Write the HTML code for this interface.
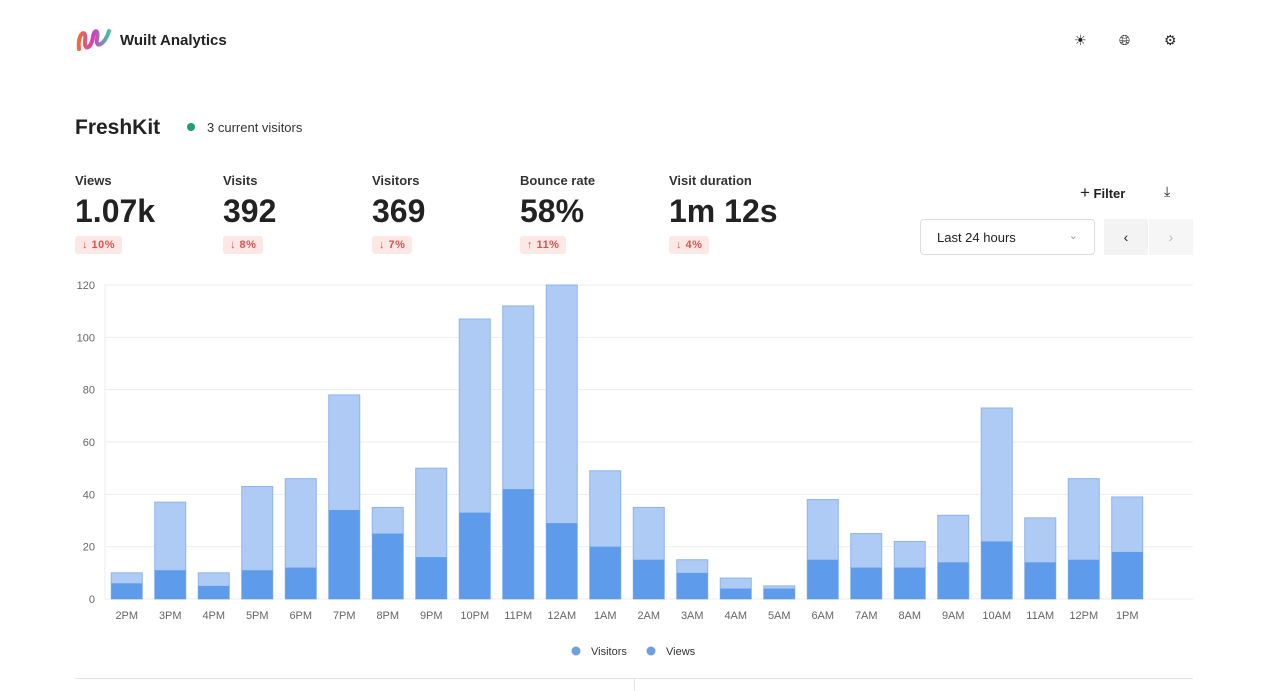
<!DOCTYPE html>
<html><head><meta charset="utf-8"><style>
body{margin:0;width:1280px;height:691px;background:#fff;font-family:"Liberation Sans",sans-serif;color:#222;position:relative;overflow:hidden}
.abs{position:absolute}
.metric .lbl{font-size:13px;font-weight:bold;color:#333}
.metric .val{font-size:32px;font-weight:bold;color:#222;margin-top:5px;letter-spacing:0px}
.metric .chg{display:inline-block;margin-top:6px;background:#fde8e6;color:#d9534f;font-size:11px;font-weight:bold;padding:3px 7px;border-radius:3px;letter-spacing:0.5px}
.icon{font-size:14px;color:#222}
</style></head><body>
<div class="abs" style="left:75px;top:23px;width:36px;height:32px">
<svg width="36" height="32"><path d="M4 26 C2 10 12 4 10 18 C9 28 16 26 18 14 C19 6 24 6 22 16 C20 26 30 22 34 8" fill="none" stroke="url(#g)" stroke-width="4" stroke-linecap="round"/><defs><linearGradient id="g" x1="0" x2="1"><stop offset="0" stop-color="#f06a3a"/><stop offset=".5" stop-color="#d63cc4"/><stop offset="1" stop-color="#3ac6a0"/></linearGradient></defs></svg></div>
<div class="abs" style="left:120px;top:32px;font-size:15px;font-weight:bold">Wuilt Analytics</div>
<div class="abs icon" style="left:1074px;top:32px">☀</div>
<div class="abs icon" style="left:1119px;top:32px">🌐︎</div>
<div class="abs icon" style="left:1164px;top:32px">⚙</div>
<div class="abs" style="left:75px;top:116px;font-size:21px;font-weight:bold">FreshKit</div>
<div class="abs" style="left:187px;top:123px;width:8px;height:8px;border-radius:50%;background:#1f9e6e"></div>
<div class="abs" style="left:207px;top:120px;font-size:13px;color:#333">3 current visitors</div>
<div class="abs metric" style="left:75px;top:173px"><div class="lbl">Views</div><div class="val">1.07k</div><div class="chg">↓ 10%</div></div>
<div class="abs metric" style="left:223px;top:173px"><div class="lbl">Visits</div><div class="val">392</div><div class="chg">↓ 8%</div></div>
<div class="abs metric" style="left:372px;top:173px"><div class="lbl">Visitors</div><div class="val">369</div><div class="chg">↓ 7%</div></div>
<div class="abs metric" style="left:520px;top:173px"><div class="lbl">Bounce rate</div><div class="val">58%</div><div class="chg">↑ 11%</div></div>
<div class="abs metric" style="left:669px;top:173px"><div class="lbl">Visit duration</div><div class="val">1m 12s</div><div class="chg">↓ 4%</div></div>
<div class="abs" style="left:1080px;top:183px;font-size:13px;font-weight:bold"><span style="font-weight:normal;font-size:17px">+</span> Filter</div>
<div class="abs icon" style="left:1164px;top:183px">⤓</div>
<div class="abs" style="left:920px;top:219px;width:175px;height:36px;border:1px solid #ddd;border-radius:4px;box-sizing:border-box;font-size:13px;padding:10px 16px">Last 24 hours<span style="position:absolute;right:16px;top:9px;color:#999;font-size:11px">⌄</span></div>
<div class="abs" style="left:1104px;top:219px;width:44px;height:36px;background:#f3f3f3;text-align:center;line-height:36px;font-size:14px">‹</div>
<div class="abs" style="left:1149px;top:219px;width:44px;height:36px;background:#f6f6f6;text-align:center;line-height:36px;font-size:14px;color:#bbb">›</div>
<svg class="abs" style="left:0;top:0" width="1280" height="691" id="chart"></svg>
<div class="abs" style="left:75px;top:678px;width:1118px;height:1px;background:#e5e5e5"></div>
<div class="abs" style="left:634px;top:678px;width:1px;height:13px;background:#e5e5e5"></div>
<script>
const categories=["2PM","3PM","4PM","5PM","6PM","7PM","8PM","9PM","10PM","11PM","12AM","1AM","2AM","3AM","4AM","5AM","6AM","7AM","8AM","9AM","10AM","11AM","12PM","1PM"];
const views=[10,37,10,43,46,78,35,50,107,112,120,49,35,15,8,5,38,25,22,32,73,31,46,39];
const visitors=[6,11,5,11,12,34,25,16,33,42,29,20,15,10,4,4,15,12,12,14,22,14,15,18];
const yTicks=[0,20,40,60,80,100,120];
const svg=document.getElementById('chart');const NS="http://www.w3.org/2000/svg";
const X0=105,X1=1193,band=43.5,bw=31,Y0=599,Ymax=120,H=314;
const y=v=>Y0-v/Ymax*H;const xc=i=>X0+band*(i+0.5);
function mk(t,a){const e=document.createElementNS(NS,t);for(const k in a)e.setAttribute(k,a[k]);svg.appendChild(e);return e;}
yTicks.forEach(t=>{
const l=mk('line',{x1:X0,x2:X1,y1:y(t),y2:y(t),stroke:'#eee'});


const tx=mk('text',{x:95,y:y(t)+4,'text-anchor':'end','font-size':11,fill:'#666','font-family':'Liberation Sans'});tx.textContent=t;


});
const ax=mk('line',{x1:X0,x2:X0,y1:284,y2:Y0,stroke:'#eee'});


categories.forEach((c,i)=>{
const b1=mk('rect',{x:xc(i)-bw/2,y:y(views[i]),width:bw,height:Y0-y(views[i]),fill:'#aecbf6',stroke:'#8fb3e8','stroke-width':1});


const b2=mk('rect',{x:xc(i)-bw/2,y:y(visitors[i]),width:bw,height:Y0-y(visitors[i]),fill:'#5e9bea'});


const tx=mk('text',{x:xc(i),y:619,'text-anchor':'middle','font-size':11,fill:'#666','font-family':'Liberation Sans'});tx.textContent=c;


});
[[576,'Visitors',591],[651,'Views',666]].forEach(([cx,t,tx0])=>{
const d=mk('circle',{cx:cx,cy:651,r:4.5,fill:'#6f9fe0'});


const tt=mk('text',{x:tx0,y:655,'font-size':11,fill:'#333','font-family':'Liberation Sans'});tt.textContent=t;


});
</script>
</body></html>
